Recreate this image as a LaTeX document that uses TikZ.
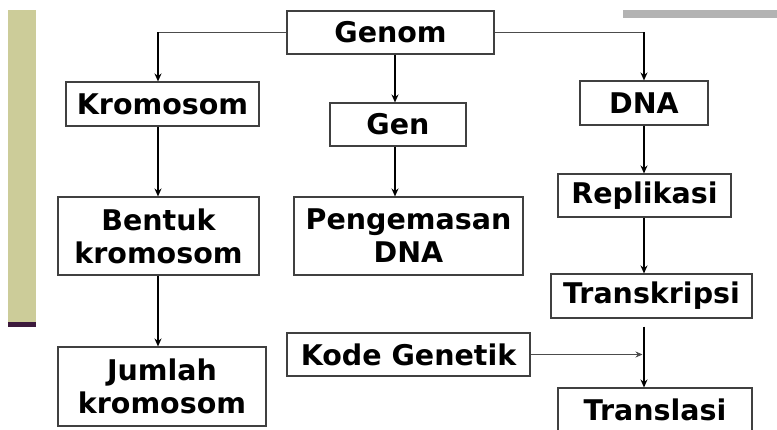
\documentclass[tikz,border=0pt]{standalone}
\usepackage{fontspec}
\setmainfont{DejaVu Sans}
\usetikzlibrary{arrows.meta}
\definecolor{olivebar}{RGB}{204,204,153}
\definecolor{darkbar}{RGB}{60,26,60}
\definecolor{graybar}{RGB}{179,179,179}
\begin{document}
\begin{tikzpicture}[x=1pt,y=-1pt,
  box/.style={draw=black!75, line width=1.1pt, fill=white, align=center, inner sep=0pt,
    font=\bfseries\fontsize{28.5}{33}\selectfont},
  arr/.style={line width=1.6pt, -{Stealth[length=8pt,width=7pt]}},
  link/.style={line width=0.8pt, draw=black!70},
  linkarr/.style={line width=0.8pt, draw=black!70, -{Stealth[length=7pt,width=6pt]}}]
\useasboundingbox (0,0) rectangle (777,430);
\fill[white] (0,0) rectangle (777,430);
% decorative bars
\fill[olivebar] (8,10) rectangle (36,322);
\fill[darkbar] (8,322) rectangle (36,327);
\fill[graybar] (623,10) rectangle (777,18);
% columns
\coordinate (c1) at (158,0);
\coordinate (c2) at (395,0);
\coordinate (c3) at (644,0);
% nodes
\node[box, minimum width=207pt, minimum height=43pt] (genom) at (390.5,32.5) {Genom};
\node[box, minimum width=193pt, minimum height=44pt] (krom) at (162.5,104) {Kromosom};
\node[box, minimum width=136pt, minimum height=43pt] (gen) at (398,124.5) {Gen};
\node[box, minimum width=128pt, minimum height=44pt] (dna) at (644,103) {DNA};
\node[box, minimum width=201pt, minimum height=78pt] (bentuk) at (158.5,236) {Bentuk\\kromosom};
\node[box, minimum width=229pt, minimum height=78pt] (peng) at (408.5,236) {Pengemasan\\DNA};
\node[box, minimum width=173pt, minimum height=43pt] (repl) at (644.5,195.5) {Replikasi};
\node[box, minimum width=201pt, minimum height=44pt] (trans) at (651.5,296) {Transkripsi};
\node[box, minimum width=243pt, minimum height=43pt] (kode) at (408.5,354.5) {Kode Genetik};
\node[box, minimum width=208pt, minimum height=79pt] (jumlah) at (162,386.5) {Jumlah\\kromosom};
\node[box, minimum width=194pt, minimum height=44pt] (transl) at (655,410) {Translasi};
% connectors
\draw[link] (genom.west) -- (genom.west -| c1);
\draw[arr] (genom.west -| c1) -- (krom.north -| c1);
\draw[link] (genom.east) -- (genom.east -| c3);
\draw[arr] (genom.east -| c3) -- (dna.north -| c3);
\draw[arr] (genom.south -| c2) -- (gen.north -| c2);
\draw[arr] (krom.south -| c1) -- (bentuk.north -| c1);
\draw[arr] (bentuk.south -| c1) -- (jumlah.north -| c1);
\draw[arr] (gen.south -| c2) -- (peng.north -| c2);
\draw[arr] (dna.south -| c3) -- (repl.north -| c3);
\draw[arr] (repl.south -| c3) -- (trans.north -| c3);
\draw[arr, shorten <=8pt] (trans.south -| c3) -- (transl.north -| c3);
\coordinate (kj) at (kode.east -| c3);
\draw[linkarr, shorten >=1.5pt] (kode.east) -- (kj);
\end{tikzpicture}
\end{document}
